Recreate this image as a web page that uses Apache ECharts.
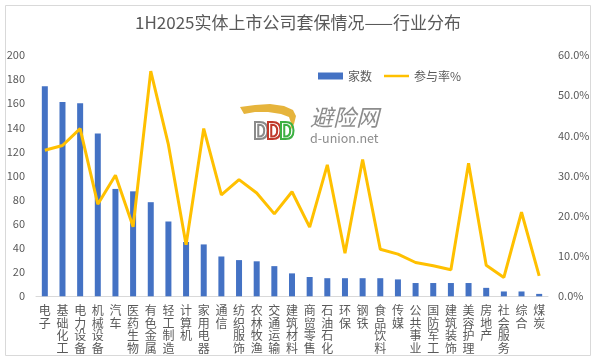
<!DOCTYPE html>
<html>
<head>
<meta charset="utf-8">
<script src="https://cdn.jsdelivr.net/npm/echarts@6/dist/echarts.min.js"></script>
<style>html,body{margin:0;padding:0;background:#fff}#c{width:596px;height:361px}</style>
</head>
<body>
<div id="c"></div>
<script>
const titleText = '1H2025实体上市公司套保情况——行业分布';
const categories = ['电子','基础化工','电力设备','机械设备','汽车','医药生物','有色金属','轻工制造','计算机','家用电器','通信','纺织服饰','农林牧渔','交通运输','建筑材料','商贸零售','石油石化','环保','钢铁','食品饮料','传媒','公共事业','国防军工','建筑装饰','美容护理','房地产','社会服务','综合','煤炭'];
const counts = [174,161,160,135,89,87,78,62,45,43,33,30,29,25,19,16,15,15,15,15,14,11,11,11,11,7,4,4,2];
const rates = [36.3,37.5,41.7,22.9,30.1,17.3,56.0,37.7,12.8,41.7,25.2,29.0,25.7,20.5,26.0,17.2,32.7,10.7,34.0,11.7,10.5,8.4,7.6,6.6,33.1,7.7,4.7,20.9,5.1];
const countName = '家数';
const rateName = '参与率%';
const leftTicks = [0, 200, 20];
const rightTicks = [0, 60, 10];

const font = '"Noto Sans CJK SC", "Noto Sans", sans-serif';
const chart = echarts.init(document.getElementById('c'), null, {renderer: 'canvas'});
chart.setOption({
  animation: false,
  backgroundColor: '#fff',
  textStyle: {fontFamily: font},
  title: {
    text: titleText, left: 'center', top: 9,
    textStyle: {fontSize: 17, fontWeight: 'normal', color: '#595959', fontFamily: font}
  },
  legend: {
    top: 65, left: 313, itemGap: 12, itemWidth: 25, itemHeight: 7,
    textStyle: {fontSize: 12, color: '#595959', fontFamily: font},
    data: [{name: countName, icon: 'rect'}, {name: rateName, icon: 'path://M0,0H30V3H0Z', itemStyle: {color: '#FFC000'}}]
  },
  grid: {left: 36, right: 48, top: 55, bottom: 64.7, containLabel: false},
  xAxis: {
    type: 'category', data: categories,
    axisTick: {show: false},
    axisLine: {lineStyle: {color: '#d9d9d9', width: 1}},
    axisLabel: {
      interval: 0, color: '#595959', fontSize: 12, lineHeight: 12.5, margin: 8,
      formatter: v => v.split('').join('\n')
    }
  },
  yAxis: [
    {type: 'value', min: leftTicks[0], max: leftTicks[1], interval: leftTicks[2],
     splitLine: {show: false}, axisLine: {show: false}, axisTick: {show: false},
     axisLabel: {color: '#595959', fontSize: 11, margin: 11}},
    {type: 'value', min: rightTicks[0], max: rightTicks[1], interval: rightTicks[2],
     splitLine: {show: false}, axisLine: {show: false}, axisTick: {show: false},
     axisLabel: {color: '#595959', fontSize: 11, margin: 10, formatter: v => v.toFixed(1) + '%'}}
  ],
  series: [
    {name: countName, type: 'bar', data: counts, barWidth: 6, itemStyle: {color: '#4472C4'}, z: 2},
    {name: rateName, type: 'line', yAxisIndex: 1, data: rates, symbol: 'none',
     lineStyle: {color: '#FFC000', width: 3}, itemStyle: {color: '#FFC000'}, z: 3}
  ],
  graphic: [
    {type: 'rect', shape: {x: 5.5, y: 5.5, width: 585, height: 350}, style: {fill: 'none', stroke: '#d9d9d9', lineWidth: 1}, silent: true, z: -1},
    {type: 'polygon', shape: {points: [[240,107],[255,105],[270,104],[284,106],[293,110],[296,116],[294,124],[290,131],[291,123],[289,117],[281,114],[268,112],[255,112],[244,114]]}, style: {fill: '#E6B43C', stroke: 'none'}, z: 1},
    {type: 'text', left: 252, top: 119, style: {text: 'D', fill: 'none', stroke: '#8a8a8a', lineWidth: 2, fontSize: 22, fontWeight: 'bold', fontFamily: font}, z: 1},
    {type: 'text', left: 265, top: 119, style: {text: 'D', fill: 'none', stroke: '#C0392B', lineWidth: 2, fontSize: 22, fontWeight: 'bold', fontFamily: font}, z: 1},
    {type: 'text', left: 278, top: 119, style: {text: 'D', fill: 'none', stroke: '#3CB043', lineWidth: 2, fontSize: 22, fontWeight: 'bold', fontFamily: font}, z: 1},
    {type: 'text', left: 310, top: 106, style: {text: '避险网', fill: '#8c8c8c', fontSize: 23, fontStyle: 'italic', fontFamily: font}, z: 1},
    {type: 'text', left: 310, top: 132, style: {text: 'd-union.net', fill: '#8c8c8c', fontSize: 12.5, fontFamily: font}, z: 1}
  ]
});
</script>
</body>
</html>
